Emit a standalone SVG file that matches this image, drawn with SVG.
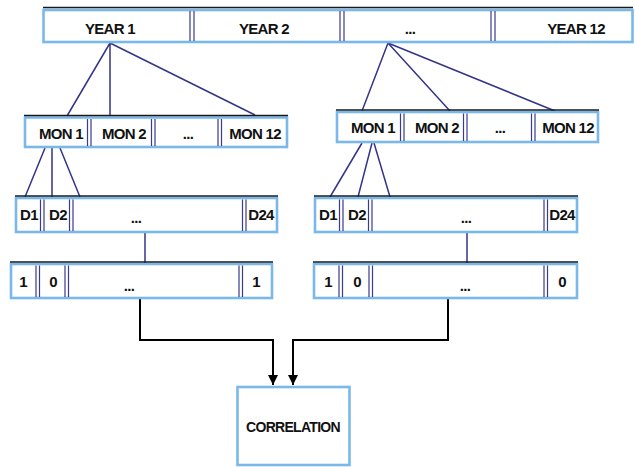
<svg xmlns="http://www.w3.org/2000/svg" width="635" height="467" viewBox="0 0 635 467">
<style>
.bar{fill:#fff;stroke:#7ab8ea;stroke-width:2.6}
.top{stroke:#1a1a1a;stroke-width:1.3}
.div{stroke:#3b3b8f;stroke-width:1.2}
.t{font-family:"Liberation Sans",Arial,sans-serif;font-weight:bold;font-size:15px;letter-spacing:-0.7px;text-anchor:middle;fill:#111}
.tree{stroke:#34348a;stroke-width:1.5;fill:none}
.flow{stroke:#000;stroke-width:2;fill:none}
</style>
<defs>
<marker id="ah" viewBox="0 0 10 10" refX="10" refY="5" markerWidth="10" markerHeight="10" markerUnits="userSpaceOnUse" orient="auto">
<path d="M0,0 L10,5 L0,10 z" fill="#000"/>
</marker>
</defs>
<g id="connectors">
<path class="tree" d="M110,43 L67,116 M110,43 L110,116 M110,43 L255,115"/>
<path class="tree" d="M388,43 L362,111 M388,43 L450,111 M388,43 L555,111"/>
<path class="tree" d="M45,148 L25,197 M52,148 L52,197 M60,148 L80,197"/>
<path class="tree" d="M362,143 L330,197 M372,143 L358,197 M374,143 L390,197"/>
<path class="tree" d="M145,233 L145,263"/>
<path class="tree" d="M467,233 L467,266"/>
<path class="flow" d="M140,299 L140,340 L273,340 L273,385" marker-end="url(#ah)"/>
<path class="flow" d="M448,299 L448,340 L293,340 L293,385" marker-end="url(#ah)"/>
</g>
<g id="years">
<rect class="bar" x="43.5" y="10" width="589" height="32"/>
<line class="top" x1="43" y1="7.5" x2="633" y2="7.5"/>
<path class="div" d="M190,11 V41 M194,11 V41 M340,11 V41 M344,11 V41 M491,11 V41 M495,11 V41"/>
<text class="t" x="110" y="34">YEAR 1</text>
<text class="t" x="264" y="34">YEAR 2</text>
<text class="t" x="410" y="34">...</text>
<text class="t" x="576" y="34">YEAR 12</text>
</g>
<g id="months-left">
<rect class="bar" x="25" y="117.5" width="262" height="29.5"/>
<line class="top" x1="24" y1="115.5" x2="288" y2="115.5"/>
<path class="div" d="M87.5,119 V146 M91,119 V146 M151.5,119 V146 M155,119 V146 M218,119 V146 M221.5,119 V146"/>
<text class="t" x="61" y="139">MON 1</text>
<text class="t" x="124" y="139">MON 2</text>
<text class="t" x="188" y="139">...</text>
<text class="t" x="255" y="139">MON 12</text>
</g>
<g id="months-right">
<rect class="bar" x="337" y="112" width="261" height="30"/>
<line class="top" x1="336" y1="110" x2="599" y2="110"/>
<path class="div" d="M400.5,113.5 V141 M404,113.5 V141 M463.5,113.5 V141 M467,113.5 V141 M531.5,113.5 V141 M535,113.5 V141"/>
<text class="t" x="373" y="133">MON 1</text>
<text class="t" x="437" y="133">MON 2</text>
<text class="t" x="500" y="133">...</text>
<text class="t" x="568" y="133">MON 12</text>
</g>
<g id="days-left">
<rect class="bar" x="16" y="198" width="261" height="34"/>
<line class="top" x1="15" y1="196" x2="278" y2="196"/>
<path class="div" d="M40.5,199.5 V231 M44,199.5 V231 M69.5,199.5 V231 M73,199.5 V231 M242.5,199.5 V231 M246,199.5 V231"/>
<text class="t" x="29" y="220">D1</text>
<text class="t" x="58" y="220">D2</text>
<text class="t" x="136" y="223">...</text>
<text class="t" x="261" y="220">D24</text>
</g>
<g id="days-right">
<rect class="bar" x="315" y="198" width="262" height="34"/>
<line class="top" x1="314" y1="196" x2="578" y2="196"/>
<path class="div" d="M339.5,199.5 V231 M343,199.5 V231 M368.5,199.5 V231 M372,199.5 V231 M544,199.5 V231 M547.5,199.5 V231"/>
<text class="t" x="328" y="220">D1</text>
<text class="t" x="357" y="220">D2</text>
<text class="t" x="466" y="223">...</text>
<text class="t" x="562" y="220">D24</text>
</g>
<g id="binary-left">
<rect class="bar" x="11" y="264" width="261" height="34"/>
<line class="top" x1="10" y1="262" x2="273" y2="262"/>
<path class="div" d="M36,265.5 V297 M39.5,265.5 V297 M65,265.5 V297 M68.5,265.5 V297 M239,265.5 V297 M242.5,265.5 V297"/>
<text class="t" x="23" y="287">1</text>
<text class="t" x="53" y="287">0</text>
<text class="t" x="129" y="291">...</text>
<text class="t" x="256" y="287">1</text>
</g>
<g id="binary-right">
<rect class="bar" x="314" y="264" width="263" height="34"/>
<line class="top" x1="313" y1="262" x2="578" y2="262"/>
<path class="div" d="M339,265.5 V297 M342.5,265.5 V297 M369,265.5 V297 M372.5,265.5 V297 M544,265.5 V297 M547.5,265.5 V297"/>
<text class="t" x="328" y="287">1</text>
<text class="t" x="357" y="287">0</text>
<text class="t" x="465" y="291">...</text>
<text class="t" x="562" y="287">0</text>
</g>
<g id="correlation">
<rect class="bar" x="237.5" y="387" width="112" height="78"/>
<text class="t" x="293" y="432" style="font-size:14px">CORRELATION</text>
</g>
</svg>
